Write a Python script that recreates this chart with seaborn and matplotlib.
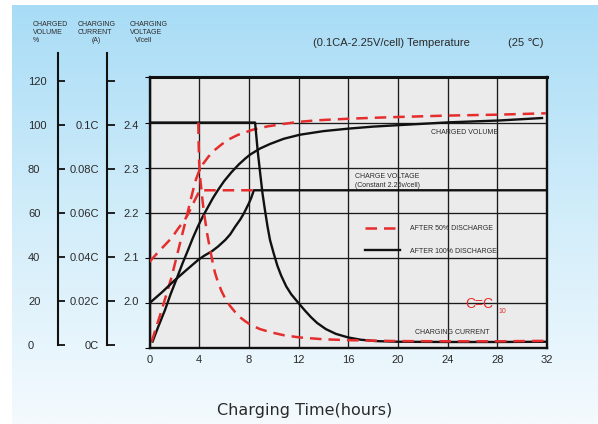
import matplotlib
matplotlib.use("Agg")
import numpy as np
import pandas as pd
import matplotlib.pyplot as plt
import seaborn as sns
from matplotlib.colors import LinearSegmentedColormap

plt.rcParams['font.family'] = ['Liberation Sans', 'DejaVu Sans']

# ---------------- data ----------------
hours_ticks = [0, 4, 8, 12, 16, 20, 24, 28, 32]
volume_ticks = [0, 20, 40, 60, 80, 100, 120]
volume_labels = ['0', '20', '40', '60', '80', '100', '120']
current_ticks = [0.0, 0.02, 0.04, 0.06, 0.08, 0.10]
current_labels = ['0C', '0.02C', '0.04C', '0.06C', '0.08C', '0.1C']
voltage_ticks = [2.0, 2.1, 2.2, 2.3, 2.4]
voltage_labels = ['2.0', '2.1', '2.2', '2.3', '2.4']

# charged volume (%)
vol100_h = [0.25, 0.7, 1.25, 1.7, 2.2, 2.65, 3.1, 3.5, 3.9, 4.3, 4.7, 5.1, 5.5, 6.0, 6.6, 7.2, 7.7, 8.1,
            8.9, 9.7, 10.8, 12.1, 14.0, 16.0, 18.0, 20.2, 24.1, 28.1, 31.6]
vol100_v = [3.0, 9.5, 17.0, 24.0, 31.0, 37.5, 43.5, 49.0, 54.0, 58.5, 62.5, 66.5, 70.0, 74.0, 78.0, 81.5,
            84.0, 85.8, 88.5, 90.5, 92.8, 94.6, 96.2, 97.3, 98.2, 98.9, 100.1, 100.9, 102.0]
vol50_h = [0.17, 0.98, 1.78, 2.45, 2.99, 3.3, 3.53, 3.75, 4.0, 4.3, 4.73, 5.2, 5.8, 6.4, 7.1, 8.3, 9.5,
           10.8, 12.0, 13.5, 16.06, 18.0, 20.2, 24.1, 28.1, 31.9]
vol50_v = [2.9, 16.9, 31.6, 46.4, 58.2, 65.5, 70.5, 75.0, 78.6, 81.6, 84.8, 87.6, 90.3, 92.6, 94.5, 96.8,
           98.3, 99.4, 100.3, 101.0, 101.7, 102.1, 102.5, 103.1, 103.5, 104.1]

# charging voltage (V/cell)
volt100_h = [0, 1, 2, 3, 3.93, 4.4, 5.0, 5.5, 6.1, 6.5, 6.9, 7.3, 7.6, 8.0, 8.2, 8.4, 32]
volt100_v = [2.0, 2.024, 2.05, 2.074, 2.096, 2.105, 2.1145, 2.125, 2.14, 2.1525, 2.1695, 2.185, 2.199,
             2.221, 2.234, 2.25, 2.25]
volt50_h = [0, 0.6, 1.25, 1.8, 2.3, 2.85, 3.2, 3.5, 3.8, 4.05, 8.4]
volt50_v = [2.0915, 2.11, 2.129, 2.145, 2.165, 2.185, 2.2025, 2.22, 2.2365, 2.25, 2.25]

# charging current (C)
cur100_h = [0, 8.5, 8.7, 8.9, 9.1, 9.3, 9.5, 9.7, 10.0, 10.3, 10.6, 11.0, 11.4, 11.85, 12.5, 13.0, 13.5,
            14.2, 15.0, 16.0, 17.0, 18.2, 20.0, 24.0, 28.0, 32.0]
cur100_v = [0.1, 0.1, 0.088, 0.078, 0.0685, 0.061, 0.054, 0.048, 0.042, 0.0365, 0.0322, 0.0275, 0.024,
            0.021, 0.0168, 0.0138, 0.0112, 0.0085, 0.0064, 0.0048, 0.0038, 0.0032, 0.0029, 0.0028, 0.0028,
            0.0029]
cur50_h = [3.93, 3.96, 4.0, 4.07, 4.2, 4.33, 4.47, 4.65, 4.87, 5.05, 5.27, 5.5, 5.8, 6.1, 6.48, 6.9, 7.28,
           7.7, 8.2, 8.9, 9.7, 10.8, 12.1, 14.0, 16.0, 20.0, 24.0, 28.0, 32.0]
cur50_v = [0.1, 0.09, 0.082, 0.076, 0.069, 0.0625, 0.057, 0.0505, 0.044, 0.039, 0.0335, 0.0295, 0.0253,
           0.022, 0.0188, 0.016, 0.0138, 0.012, 0.0102, 0.0085, 0.0072, 0.0058, 0.0048, 0.004, 0.0036,
           0.0032, 0.0031, 0.0031, 0.0033]

RED = '#e52d2d'
BLACK = '#111111'
TXT = '#2a2a2a'

W, H = 598, 424
fig = plt.figure(figsize=(W / 100, H / 100), dpi=100)
fig.patch.set_facecolor('white')


def fx(px):
    return px / W


def fy(py):
    return 1 - py / H


# background gradient
bg = fig.add_axes([fx(12), 0, 1 - fx(12), 1 - 5 / H], zorder=-10)
cmap = LinearSegmentedColormap.from_list('bgc', ['#f4fafe', '#d2edfa', '#a8dcf6'])
bg.imshow(np.linspace(0, 1, 256)[::-1].reshape(-1, 1), aspect='auto', cmap=cmap, extent=[0, 1, 0, 1])
bg.axis('off')

# main axes
ax = fig.add_axes([fx(149.5), fy(348.3), (547 - 149.5) / W, (348.3 - 77.4) / H])
ax.set_facecolor('#ebebeb')
ax.set_xlim(0, 32)
ax.set_ylim(0, 120)
ax.set_xticks(hours_ticks)
ax.set_xticklabels([str(h) for h in hours_ticks])
ax.set_yticks(volume_ticks)
ax.tick_params(axis='y', left=False, labelleft=False)
ax.tick_params(axis='x', length=0, pad=5, labelsize=8, labelcolor=TXT)
ax.grid(True, color='#1c1c1c', lw=0.95)
ax.set_axisbelow(True)
for s in ['left', 'bottom', 'right']:
    ax.spines[s].set_linewidth(1.7)
    ax.spines[s].set_color(BLACK)
ax.spines['top'].set_linewidth(2.2)
ax.spines['top'].set_color(BLACK)

axv = ax.twinx()
axv.set_ylim(1.9, 2.5)
axv.axis('off')
axc = ax.twinx()
axc.set_ylim(0, 0.12)
axc.axis('off')

dash = (0, (4.6, 2.8))
common = dict(estimator=None, sort=False, legend=False)

sns.lineplot(x=vol100_h, y=vol100_v, ax=ax, color=BLACK, lw=1.7, **common)
sns.lineplot(x=vol50_h, y=vol50_v, ax=ax, color=RED, lw=1.8, linestyle=dash, **common)
sns.lineplot(x=volt100_h, y=volt100_v, ax=axv, color=BLACK, lw=1.7, **common)
sns.lineplot(x=volt50_h, y=volt50_v, ax=axv, color=RED, lw=1.8, linestyle=dash, **common)
sns.lineplot(x=cur100_h, y=cur100_v, ax=axc, color=BLACK, lw=1.7, **common)
black_handle = axc.lines[-1]
sns.lineplot(x=cur50_h, y=cur50_v, ax=axc, color=RED, lw=1.8, linestyle=dash, **common)
red_handle = axc.lines[-1]

leg = axc.legend(handles=[red_handle, black_handle],
                 labels=['AFTER 50% DISCHARGE', 'AFTER 100% DISCHARGE'],
                 loc='upper left', bbox_to_anchor=((365 - 149.5) / 397.5, (348.3 - 225.2) / 270.9),
                 frameon=False, fontsize=5, handlelength=5.0, handletextpad=1.5,
                 labelspacing=2.23, borderpad=0, borderaxespad=0)
for t in leg.get_texts():
    t.set_color(TXT)

# in-plot annotations
ax.text(22.64, 95.7, 'CHARGED VOLUME', fontsize=5, color=TXT, va='center', ha='left')
ax.text(16.55, 76.2, 'CHARGE VOLTAGE', fontsize=5, color=TXT, va='center', ha='left')
ax.text(16.55, 72.0, '(Constant 2.25v/cell)', fontsize=5, color=TXT, va='center', ha='left')
ax.text(21.38, 7.2, 'CHARGING CURRENT', fontsize=5, color=TXT, va='center', ha='left')
ax.text(25.4, 19.6, 'C=C', fontsize=10, color=RED, va='center', ha='left')
ax.text(28.06, 16.5, '10', fontsize=5, color=RED, va='center', ha='left')

# left scale axes
ytop = 132.7
a1 = fig.add_axes([fx(58), fy(345), 1e-4, (345 - 53) / H])
a1.set_facecolor('none')
a1.set_ylim(0, ytop)
a1.set_xticks([])
for s in ['top', 'bottom', 'right']:
    a1.spines[s].set_visible(False)
a1.spines['left'].set_linewidth(1.5)
a1.spines['left'].set_color(BLACK)
a1.set_yticks(volume_ticks)
a1.set_yticklabels(volume_labels)
a1.tick_params(axis='y', direction='in', length=5.2, width=1.3, color=BLACK,
               labelsize=8, labelcolor=TXT, pad=21.6)
for lab in a1.get_yticklabels():
    lab.set_ha('left')

a1c = a1.twinx()
a1c.set_ylim(0, 0.1 * ytop / 100)
for s in a1c.spines.values():
    s.set_visible(False)
a1c.set_yticks(current_ticks)
a1c.set_yticklabels(current_labels)
a1c.tick_params(axis='y', length=0, labelsize=8, labelcolor=TXT, pad=29.5)
for lab in a1c.get_yticklabels():
    lab.set_ha('right')

a2 = fig.add_axes([fx(107), fy(345), 1e-4, (345 - 53) / H])
a2.set_facecolor('none')
a2.set_ylim(0, ytop)
a2.set_xticks([])
for s in ['top', 'bottom', 'right']:
    a2.spines[s].set_visible(False)
a2.spines['left'].set_linewidth(1.5)
a2.spines['left'].set_color(BLACK)
a2.set_yticks(volume_ticks)
a2.tick_params(axis='y', direction='in', length=5.8, width=1.3, color=BLACK, labelleft=False)

a2v = a2.twinx()
a2v.set_ylim(1.9, 1.9 + 0.6 * ytop / 120)
for s in a2v.spines.values():
    s.set_visible(False)
a2v.set_yticks(voltage_ticks)
a2v.set_yticklabels(voltage_labels)
a2v.tick_params(axis='y', length=0, labelsize=8, labelcolor=TXT, pad=11.5)

# header texts
hdr = dict(fontsize=5, color=TXT, va='center', ha='left')
fig.text(fx(33), fy(24), 'CHARGED', **hdr)
fig.text(fx(33), fy(32), 'VOLUME', **hdr)
fig.text(fx(33), fy(40.5), '%', **hdr)
fig.text(fx(78), fy(24), 'CHARGING', **hdr)
fig.text(fx(78), fy(32), 'CURRENT', **hdr)
fig.text(fx(92), fy(40.5), '(A)', **hdr)
fig.text(fx(130), fy(24), 'CHARGING', **hdr)
fig.text(fx(130), fy(32), 'VOLTAGE', **hdr)
fig.text(fx(135), fy(40.5), 'V/cell', **hdr)

fig.text(fx(313), fy(43), '(0.1CA-2.25V/cell) Temperature', fontsize=8, color=TXT, va='center', ha='left')
fig.text(fx(508), fy(43), '(25 \u2103)', fontsize=8, color=TXT, va='center', ha='left')

fig.text(fx(305), fy(411), 'Charging Time(hours)', fontsize=11.5, color=TXT, va='center', ha='center',
         family=['DejaVu Sans'])

fig.savefig('out.png', dpi=100, facecolor=fig.get_facecolor())
